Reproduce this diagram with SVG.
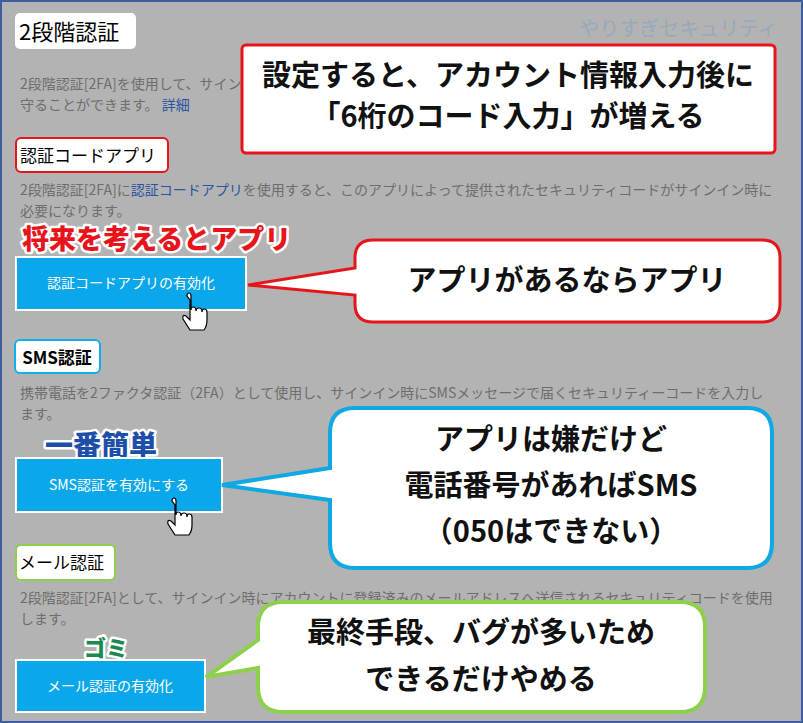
<svg xmlns="http://www.w3.org/2000/svg" width="803" height="723" viewBox="0 0 803 723">
<style>
text{font-family:"Noto Sans CJK JP","Noto Sans",sans-serif}
.g{fill:#6e6e6e;font-size:14px}
.lk{fill:#2a55a0}
.btn{fill:#0aa8ea;stroke:#fff;stroke-width:2}
.bt{fill:#fff;font-size:14px;text-anchor:middle}
.cb{font-weight:bold;font-size:29px;text-anchor:middle;fill:#111}
.ann{font-weight:900;paint-order:stroke;stroke:#fff;stroke-width:5px;stroke-linejoin:round}
</style>
<rect x="1" y="1" width="801" height="721" fill="#b3b3b3" stroke="#3f5e9e" stroke-width="2"/>
<text x="778" y="36" font-size="20" fill="#97a9bb" text-anchor="end">やりすぎセキュリティ</text>
<g id="title"><rect x="15" y="13" width="121" height="36" rx="5" fill="#fff"/><text x="19" y="40" font-size="22" fill="#000">2段階認証</text></g>
<text class="g" x="20" y="89">2段階認証[2FA]を使用して、サインイン</text>
<text class="g" x="20" y="110">守ることができます。 <tspan class="lk">詳細</tspan></text>
<g id="callout1"><rect x="242" y="45" width="533" height="108" rx="4" fill="#fff" stroke="#e8141c" stroke-width="3"/>
<text class="cb" x="508" y="86" font-size="25">設定すると、アカウント情報入力後に</text>
<text class="cb" x="508" y="127" font-size="25">「6桁のコード入力」が増える</text></g>
<g id="app-label"><rect x="16" y="138" width="152" height="34" rx="5" fill="#fff" stroke="#e8141c" stroke-width="2"/><text x="20" y="162" font-size="17">認証コードアプリ</text></g>
<text class="g" x="20" y="195">2段階認証[2FA]に<tspan class="lk">認証コードアプリ</tspan>を使用すると、このアプリによって提供されたセキュリティコードがサインイン時に</text>
<text class="g" x="20" y="216">必要になります。</text>
<text class="ann" x="22" y="249" font-size="27" fill="#e8141c">将来を考えるとアプリ</text>
<g id="btn-app"><rect class="btn" x="16" y="257" width="230" height="53"/><text class="bt" x="131" y="288">認証コードアプリの有効化</text></g>
<g id="sms-label"><rect x="15" y="340" width="85" height="33" rx="5" fill="#fff" stroke="#12aee8" stroke-width="2"/><text x="57" y="364" font-size="17" font-weight="bold" text-anchor="middle">SMS認証</text></g>
<text class="g" x="20" y="398">携帯電話を2ファクタ認証（2FA）として使用し、サインイン時にSMSメッセージで届くセキュリティーコードを入力し</text>
<text class="g" x="20" y="419">ます。</text>
<text class="ann" x="45" y="456" font-size="28" fill="#1e4fa8">一番簡単</text>
<g id="btn-sms"><rect class="btn" x="16" y="458" width="206" height="54"/><text class="bt" x="119" y="490">SMS認証を有効にする</text></g>
<g id="mail-label"><rect x="16" y="545" width="99" height="35" rx="5" fill="#fff" stroke="#8ed04e" stroke-width="2"/><text x="19" y="569" font-size="17">メール認証</text></g>
<text class="g" x="20" y="603">2段階認証[2FA]として、サインイン時にアカウントに登録済みのメールアドレスへ送信されるセキュリティコードを使用</text>
<text class="g" x="20" y="624">します。</text>
<text class="ann" x="84" y="656" font-size="22" fill="#1a8a50">ゴミ</text>
<g id="btn-mail"><rect class="btn" x="16" y="660" width="189" height="52"/><text class="bt" x="110" y="691">メール認証の有効化</text></g>
<g id="connectors">
<g id="callout2"><path d="M373,240 H762 Q780,240 780,258 V304 Q780,322 762,322 H373 Q355,322 355,304 V295 L248,285 L355,268 V258 Q355,240 373,240 Z" fill="#fff" stroke="#e8141c" stroke-width="3"/>
<text class="cb" x="567" y="291">アプリがあるならアプリ</text></g>
<g id="callout3"><path d="M355,408 H747 Q772,408 772,433 V543 Q772,568 747,568 H355 Q330,568 330,543 V500 L222,485 L330,468 V433 Q330,408 355,408 Z" fill="#fff" stroke="#10a8e2" stroke-width="4"/>
<text class="cb" x="551" y="450">アプリは嫌だけど</text>
<text class="cb" x="551" y="496">電話番号があればSMS</text>
<text class="cb" x="551" y="542">（050はできない）</text></g>
<g id="callout4"><path d="M283,602 H680 Q705,602 705,627 V687 Q705,712 680,712 H283 Q258,712 258,687 V668 L206,677 L258,640 V627 Q258,602 283,602 Z" fill="#fff" stroke="#8ed04e" stroke-width="4"/>
<text class="cb" x="481" y="643">最終手段、バグが多いため</text>
<text class="cb" x="481" y="690">できるだけやめる</text></g>
</g>
<g id="cursor1" fill="#fff" stroke="#000" stroke-width="1.2"><path d="M190,300 v20 l-4,-4 q-4,-2 -3,3 l7,11 h14 q3,-4 3,-10 v-8 q0,-3 -3,-3 q-2,0 -2,3 q0,-4 -3,-4 q-3,0 -3,3 q0,-4 -3,-4 q-2,0 -2,3 v-14 q0,-3 -2,-3 q-2,0 -2,3 z"/></g>
<g id="cursor2" fill="#fff" stroke="#000" stroke-width="1.2"><path d="M175,505 v20 l-4,-4 q-4,-2 -3,3 l7,11 h14 q3,-4 3,-10 v-8 q0,-3 -3,-3 q-2,0 -2,3 q0,-4 -3,-4 q-3,0 -3,3 q0,-4 -3,-4 q-2,0 -2,3 v-14 q0,-3 -2,-3 q-2,0 -2,3 z"/></g>
</svg>
